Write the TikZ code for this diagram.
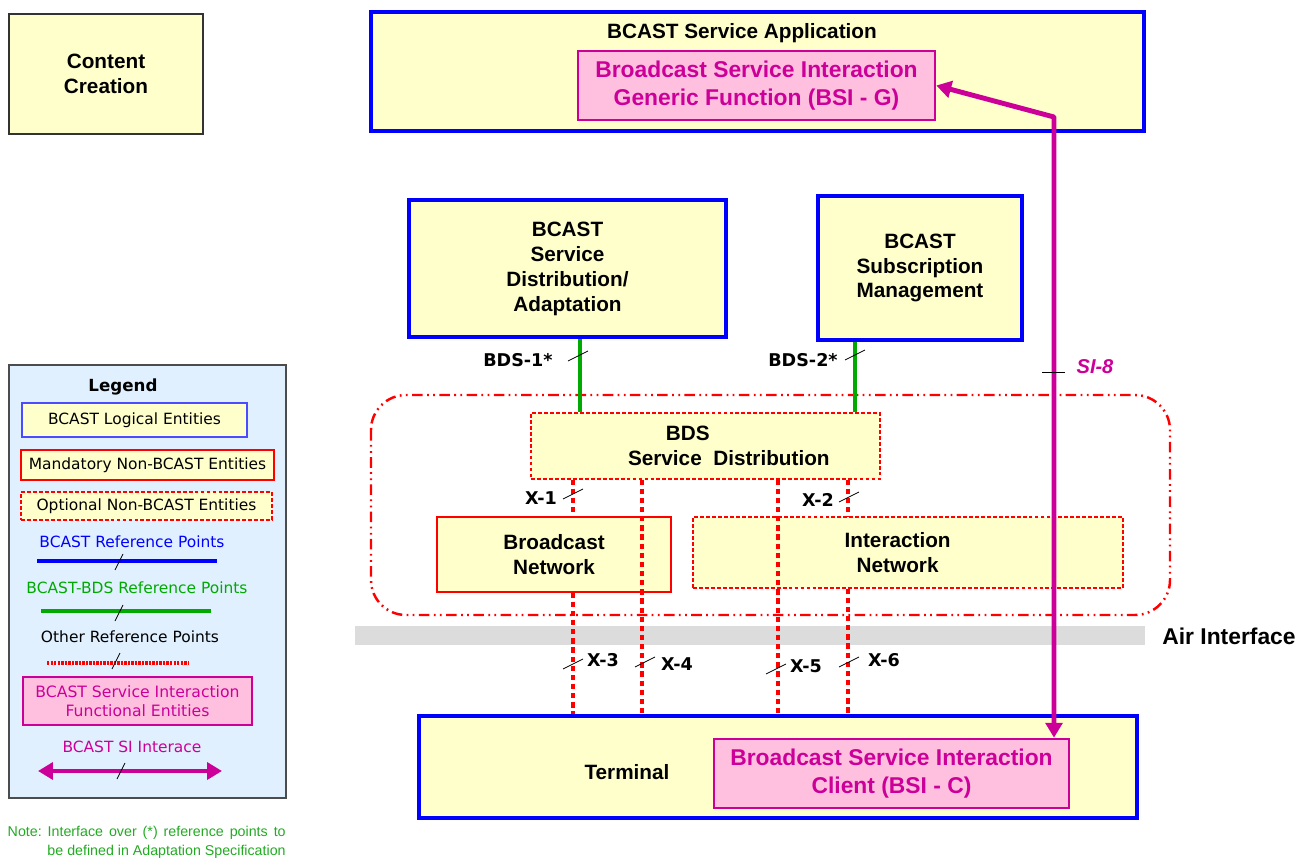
\documentclass[tikz,border=0pt]{standalone}
\usepackage{fontspec}
\setmainfont{Liberation Sans}
\newfontfamily\dvfont{DejaVu Sans}
\usetikzlibrary{arrows.meta}

\definecolor{entyellow}{HTML}{FFFFCC}
\definecolor{bcastblue}{HTML}{0000FF}
\definecolor{simagenta}{HTML}{CC0099}
\definecolor{sipink}{HTML}{FFC0E0}
\definecolor{bdsgreen}{HTML}{00AA00}
\definecolor{notegreen}{HTML}{22AA22}
\definecolor{legendblue}{HTML}{E0F0FF}
\definecolor{airgrey}{HTML}{DCDCDC}

\begin{document}
\begin{tikzpicture}[x=0.02cm, y=-0.02cm,
    entity/.style={fill=entyellow, align=center, inner sep=0pt,
        font=\bfseries\fontsize{11.8}{14.2}\selectfont},
    bcastbox/.style={entity, draw=bcastblue, line width=2pt},
    mandbox/.style={entity, draw=red, line width=0.7pt},
    optbox/.style={entity, draw=red, line width=0.7pt, dash pattern=on 2.2pt off 1.2pt},
    sibox/.style={draw=simagenta, fill=sipink, line width=1.5pt, text=simagenta,
        align=center, inner sep=0pt, font=\bfseries\fontsize{13}{15.5}\selectfont},
    bdsref/.style={bdsgreen, line width=2.1pt},
    otherref/.style={red, line width=2.8pt, dash pattern=on 3pt off 2.2pt},
    siref/.style={simagenta, line width=2.8pt,
        {Triangle[length=8.5pt,width=9.6pt]}-{Triangle[length=8.5pt,width=9.6pt]}},
    tickmark/.style={black, line width=0.5pt},
    reflabel/.style={font=\dvfont\bfseries\fontsize{10}{12}\selectfont},
    leglabel/.style={font=\dvfont\fontsize{8.8}{10.6}\selectfont, align=center, inner sep=0pt},
    legbox/.style={fill=entyellow, line width=0.7pt, minimum width=#1, minimum height=0.6cm}
]
\useasboundingbox (0,0) rectangle (1299,861);

% BDS frame and air interface
\draw[red, line width=1.4pt, rounded corners=0.7cm,
    dash pattern=on 6pt off 2.5pt on 1pt off 2.5pt on 1pt off 2.5pt]
    (371,395) rectangle (1170,615);
\fill[airgrey] (355,626) rectangle (1145,645);
\node[font=\bfseries\fontsize{13}{15}\selectfont] (airlabel) at (1229,636) {Air Interface};

% content creation
\node[entity, draw=black!80, line width=0.9pt, minimum width=3.88cm, minimum height=2.4cm]
    (content) at (106,74) {Content\\Creation};

% service application
\node[bcastbox, minimum width=15.46cm, minimum height=2.38cm] (app) at (757.5,71.5) {};
\node[font=\bfseries\fontsize{11.8}{14.2}\selectfont] (apptitle) at (742,33) {BCAST Service Application};
\node[sibox, minimum width=7.14cm, minimum height=1.38cm] (bsig) at (756.5,85.5)
    {Broadcast Service Interaction\\Generic Function (BSI - G)};

% distribution and subscription
\node[bcastbox, minimum width=6.34cm, minimum height=2.74cm] (distad) at (567.5,268.5)
    {BCAST\\Service\\Distribution/\\Adaptation};
\node[bcastbox, minimum width=4.08cm, minimum height=2.88cm] (subman) at (920,268)
    {BCAST\\Subscription\\Management};

% BDS entities
\node[optbox, minimum width=6.98cm, minimum height=1.32cm] (bds) at (705.5,446)
    {BDS\hspace*{1.7em}\\\hspace*{2.25em}Service~~Distribution};
\node[mandbox, minimum width=4.68cm, minimum height=1.5cm] (bnet) at (554,554.5)
    {Broadcast\\Network};
\node[optbox, minimum width=8.6cm, minimum height=1.42cm] (inet) at (908,552.5)
    {Interaction\hspace*{1em}\\Network\hspace*{1em}};

% terminal
\node[bcastbox, minimum width=14.36cm, minimum height=2.04cm] (term) at (778,767) {};
\node[font=\bfseries\fontsize{11.8}{14.2}\selectfont] (termlabel) at (627,772) {Terminal};
\node[sibox, minimum width=7.1cm, minimum height=1.38cm] (bsic) at (891.5,773.5)
    {Broadcast Service Interaction\\Client (BSI - C)};

% reference point positions
\coordinate (bds1) at (580,0);
\coordinate (bds2) at (855,0);
\coordinate (xa) at (573,0);
\coordinate (xb) at (642,0);
\coordinate (xc) at (778,0);
\coordinate (xd) at (848,0);
\coordinate (sicorner) at (1054,117);

% BCAST-BDS reference points
\draw[bdsref] (bds1 |- distad.south) -- (bds1 |- bds.north);
\draw[bdsref] (bds2 |- subman.south) -- (bds2 |- bds.north);

% other reference points
\draw[otherref] (xa |- bds.south) -- (xa |- bnet.north);
\draw[otherref] (xa |- bnet.south) -- (xa |- term.north);
\draw[otherref] (xb |- bds.south) -- (xb |- term.north);
\draw[otherref] (xc |- bds.south) -- (xc |- term.north);
\draw[otherref] (xd |- bds.south) -- (xd |- inet.north);
\draw[otherref] (xd |- inet.south) -- (xd |- term.north);

% SI-8
\draw[siref, line join=round] (bsig.east) -- (sicorner) -- (sicorner |- bsic.north);
\draw[tickmark] (1042,372) -- (1065,372);
\node[font=\bfseries\itshape\fontsize{11.4}{13}\selectfont, text=simagenta] (si8) at (1095,367) {SI-8};

% ticks
\foreach \tx/\ty in {578/356, 855/355, 573/494, 849/497, 573/664, 645/662, 776/669, 849/662}
    \draw[tickmark] (\tx,\ty) +(-10,5) -- +(10,-5);

% reference point labels
\node[reflabel] (lbds1) at (518,360) {BDS-1*};
\node[reflabel] (lbds2) at (803,360) {BDS-2*};
\node[reflabel] (lx1) at (541,498) {X-1};
\node[reflabel] (lx2) at (818,500) {X-2};
\node[reflabel] (lx3) at (603,660) {X-3};
\node[reflabel] (lx4) at (677,664) {X-4};
\node[reflabel] (lx5) at (806,666) {X-5};
\node[reflabel] (lx6) at (884,660) {X-6};

% legend
\draw[fill=legendblue, draw=black!70, line width=0.7pt] (9,365) rectangle (286,798);
\node[font=\dvfont\bfseries\fontsize{9.5}{11}\selectfont] (legtitle) at (123,387) {Legend};
\node[legbox=4.5cm, draw=bcastblue!70, minimum height=0.68cm, leglabel] (legbcast) at (134.5,420) {BCAST Logical Entities};
\node[legbox=5.06cm, draw=red, leglabel] (legmand) at (147.5,465) {Mandatory Non-BCAST Entities};
\node[legbox=5.02cm, draw=red, dash pattern=on 2.2pt off 1.2pt, minimum height=0.56cm, leglabel] (legopt) at (146.5,506) {Optional Non-BCAST Entities};
\node[leglabel, text=bcastblue] (legblue) at (132,542) {BCAST Reference Points};
\draw[bcastblue, line width=2pt] (37,561) -- (217,561);
\node[leglabel, text=bdsgreen] (leggreen) at (137,588) {BCAST-BDS Reference Points};
\draw[bdsref] (41,611) -- (211,611);
\node[leglabel] (legother) at (130,637) {Other Reference Points};
\draw[red, line width=2pt, dash pattern=on 1.4pt off 0.6pt] (47,663) -- (189,663);
\node[legbox=4.58cm, draw=simagenta, fill=sipink, line width=1.3pt, minimum height=0.96cm,
    leglabel, text=simagenta, font=\dvfont\fontsize{8.9}{10.8}\selectfont] (legsi) at (137.5,701)
    {BCAST Service Interaction\\Functional Entities};
\node[leglabel, text=simagenta] (legsiarrow) at (132,747) {BCAST SI Interace};
\draw[siref] (38,771) -- (222,771);
\foreach \tx/\ty in {119/562, 119/613, 116/661, 121/771}
    \draw[tickmark] (\tx,\ty) +(-4,8) -- +(4,-8);

% note
\node[anchor=east, align=right, text=notegreen, inner sep=0pt,
    font=\fontsize{8.1}{10.8}\selectfont] (note) at (286,842)
    {Note:\hspace{0.42em}Interface\hspace{0.42em}over\hspace{0.42em}(*)\hspace{0.42em}reference\hspace{0.42em}points\hspace{0.42em}to\\be defined in Adaptation Specification};

\end{tikzpicture}
\end{document}
